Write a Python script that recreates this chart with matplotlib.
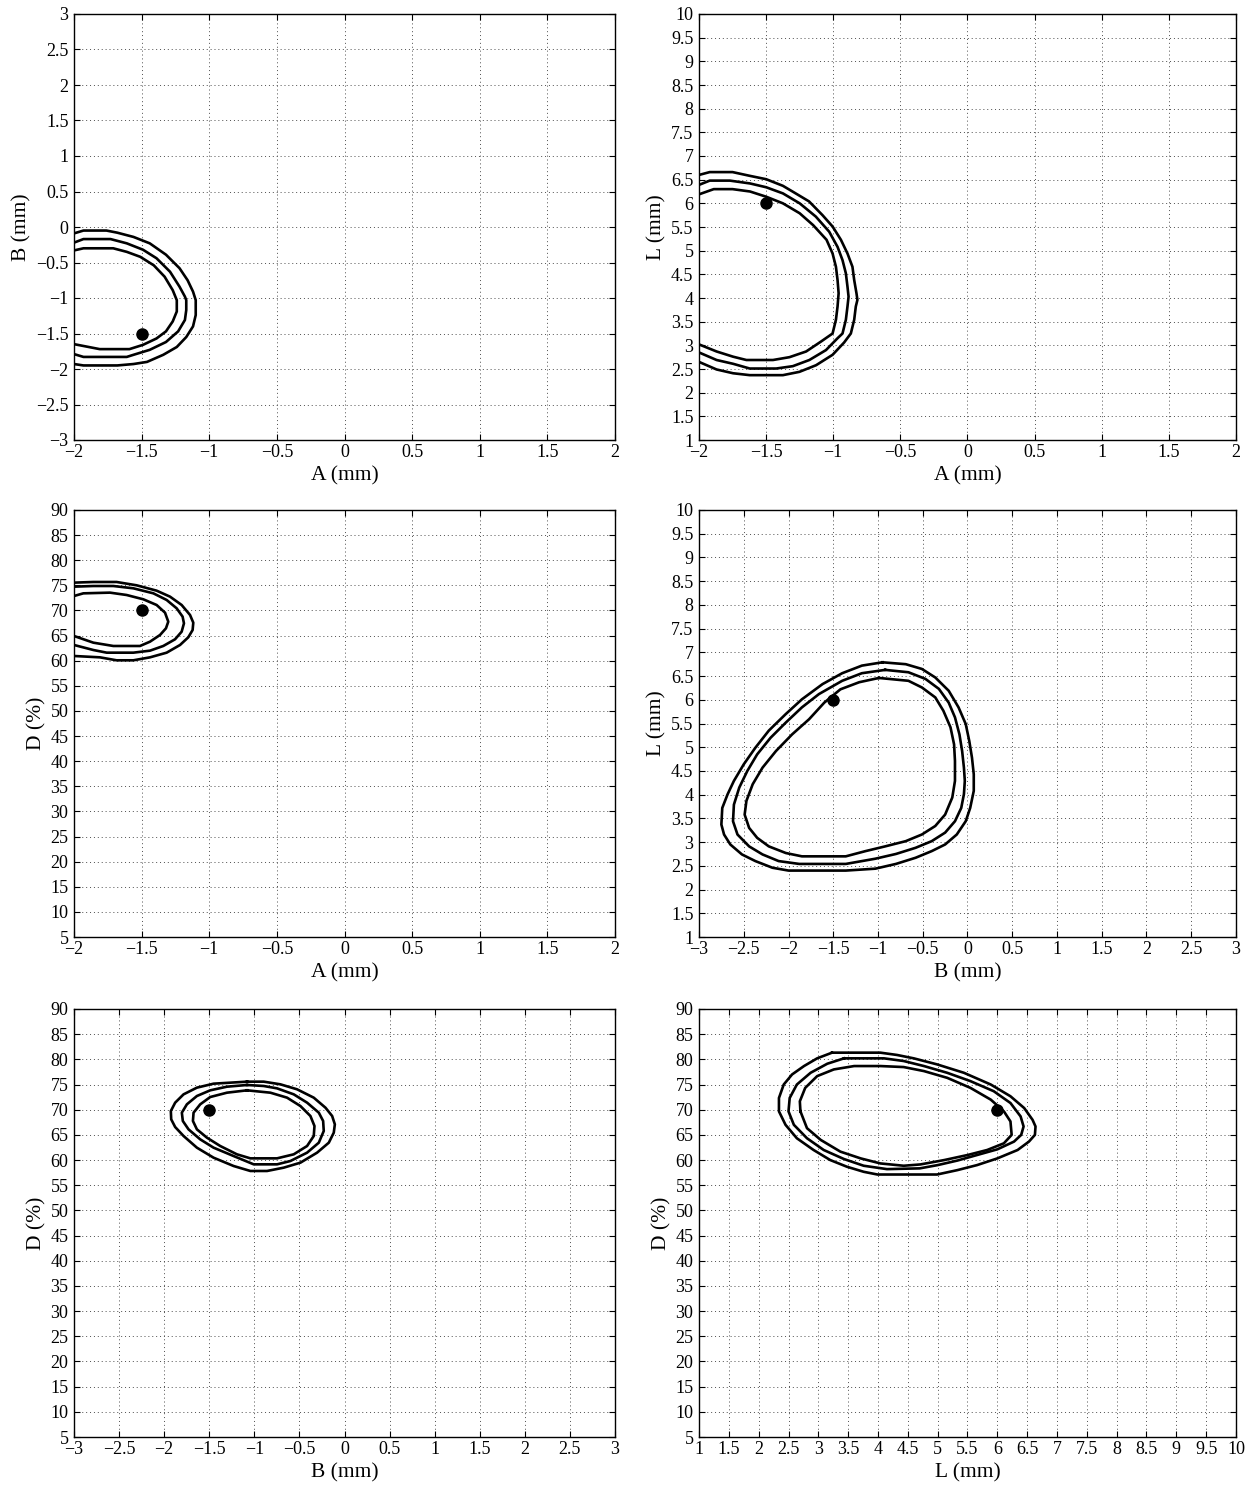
import matplotlib.pyplot as plt
import numpy as np
from matplotlib.ticker import FuncFormatter

plt.rcParams["font.family"] = ["Liberation Serif", "DejaVu Serif"]
plt.rcParams["axes.unicode_minus"] = True

# optimum point (marked with a dot)
best_a = -1.5
best_b = -1.5
best_l = 6.0
best_d = 70.0

# contour levels, outer -> inner
# A-B plane
ab_outer_a = [-2.0, -1.93, -1.76, -1.68, -1.56, -1.44, -1.32, -1.22, -1.16, -1.12, -1.10, -1.10, -1.12, -1.17, -1.24, -1.34, -1.46, -1.56, -1.68, -1.93, -2.0]
ab_outer_b = [-0.09, -0.05, -0.05, -0.08, -0.14, -0.23, -0.39, -0.58, -0.75, -0.91, -1.03, -1.24, -1.40, -1.55, -1.69, -1.80, -1.90, -1.93, -1.95, -1.95, -1.93]
ab_mid_a = [-2.0, -1.93, -1.73, -1.61, -1.49, -1.39, -1.29, -1.22, -1.18, -1.17, -1.17, -1.18, -1.23, -1.32, -1.44, -1.56, -1.61, -1.93, -2.0]
ab_mid_b = [-0.22, -0.17, -0.17, -0.23, -0.32, -0.44, -0.63, -0.84, -0.98, -1.03, -1.17, -1.31, -1.47, -1.62, -1.73, -1.80, -1.83, -1.83, -1.79]
ab_inner_a = [-2.0, -1.93, -1.71, -1.61, -1.51, -1.41, -1.33, -1.27, -1.24, -1.24, -1.27, -1.32, -1.39, -1.49, -1.59, -1.81, -2.0]
ab_inner_b = [-0.33, -0.30, -0.30, -0.35, -0.42, -0.54, -0.70, -0.89, -1.03, -1.19, -1.33, -1.47, -1.57, -1.66, -1.72, -1.72, -1.65]

# A-L plane
al_outer_a = [-2.0, -1.92, -1.75, -1.62, -1.50, -1.375, -1.28, -1.18, -1.08, -1.005, -0.943, -0.894, -0.857, -0.844, -0.827, -0.820, -0.832, -0.844, -0.869, -0.919, -1.005, -1.128, -1.252, -1.375, -1.622, -1.746, -1.869, -2.0]
al_outer_l = [6.60, 6.66, 6.66, 6.58, 6.51, 6.37, 6.21, 6.04, 5.75, 5.51, 5.23, 4.94, 4.66, 4.38, 4.10, 3.96, 3.82, 3.54, 3.25, 3.06, 2.80, 2.58, 2.44, 2.37, 2.37, 2.41, 2.49, 2.65]
al_mid_a = [-2.0, -1.92, -1.77, -1.62, -1.50, -1.375, -1.25, -1.13, -1.03, -0.968, -0.931, -0.906, -0.894, -0.886, -0.894, -0.906, -0.931, -0.968, -1.054, -1.178, -1.301, -1.425, -1.622, -1.746, -1.869, -2.0]
al_mid_l = [6.39, 6.48, 6.48, 6.42, 6.34, 6.21, 6.00, 5.72, 5.40, 5.08, 4.80, 4.52, 4.24, 4.03, 3.82, 3.54, 3.25, 3.15, 2.90, 2.69, 2.56, 2.51, 2.51, 2.61, 2.69, 2.85]
al_inner_a = [-2.0, -1.89, -1.75, -1.62, -1.50, -1.375, -1.25, -1.15, -1.05, -1.005, -0.98, -0.968, -0.96, -0.968, -0.98, -1.005, -1.091, -1.202, -1.326, -1.449, -1.647, -1.746, -1.869, -2.0]
al_inner_l = [6.19, 6.30, 6.30, 6.25, 6.14, 6.00, 5.79, 5.54, 5.23, 4.94, 4.66, 4.38, 4.10, 3.82, 3.54, 3.25, 3.08, 2.87, 2.75, 2.69, 2.69, 2.76, 2.87, 3.02]

# A-D plane
ad_outer_a = [-2.0, -1.857, -1.685, -1.537, -1.389, -1.29, -1.204, -1.142, -1.118, -1.123, -1.155, -1.216, -1.315, -1.438, -1.561, -1.685, -1.808, -2.0]
ad_outer_d = [75.54, 75.67, 75.67, 75.01, 73.94, 72.75, 71.09, 69.10, 67.57, 66.11, 64.66, 63.13, 61.60, 60.67, 60.08, 60.08, 60.67, 60.94]
ad_mid_a = [-2.0, -1.857, -1.709, -1.561, -1.413, -1.315, -1.241, -1.197, -1.187, -1.204, -1.253, -1.34, -1.438, -1.561, -1.758, -1.857, -2.0]
ad_mid_d = [74.74, 74.87, 74.87, 74.41, 73.41, 72.09, 70.43, 68.77, 67.44, 65.78, 64.26, 62.93, 62.00, 61.60, 61.60, 62.13, 63.13]
ad_inner_a = [-2.0, -1.931, -1.734, -1.611, -1.487, -1.389, -1.327, -1.303, -1.32, -1.364, -1.438, -1.512, -1.709, -1.857, -2.0]
ad_inner_d = [72.88, 73.41, 73.55, 73.08, 72.22, 71.09, 69.56, 67.77, 66.45, 65.12, 63.79, 62.93, 62.93, 63.59, 64.92]

# B-L plane
bl_outer_b = [-0.95, -0.69, -0.51, -0.36, -0.21, -0.10, -0.02, 0.02, 0.05, 0.07, 0.07, 0.03, -0.02, -0.12, -0.25, -0.40, -0.58, -0.80, -1.03, -1.36, -2.00, -2.18, -2.37, -2.52, -2.65, -2.72, -2.75, -2.74, -2.68, -2.61, -2.50, -2.37, -2.22, -2.03, -1.85, -1.62, -1.40, -1.18]
bl_outer_l = [6.79, 6.75, 6.65, 6.47, 6.19, 5.84, 5.49, 5.13, 4.78, 4.43, 4.08, 3.72, 3.44, 3.16, 2.95, 2.81, 2.67, 2.54, 2.44, 2.40, 2.40, 2.46, 2.60, 2.74, 2.95, 3.16, 3.37, 3.72, 4.01, 4.29, 4.64, 4.99, 5.35, 5.70, 6.01, 6.33, 6.56, 6.72]
bl_mid_b = [-0.92, -0.66, -0.47, -0.32, -0.21, -0.14, -0.09, -0.06, -0.04, -0.03, -0.04, -0.07, -0.14, -0.25, -0.40, -0.58, -0.80, -1.03, -1.36, -1.88, -2.11, -2.29, -2.44, -2.57, -2.62, -2.61, -2.55, -2.46, -2.35, -2.20, -2.03, -1.85, -1.66, -1.40, -1.18]
bl_mid_l = [6.63, 6.58, 6.44, 6.23, 5.94, 5.63, 5.27, 4.92, 4.57, 4.29, 4.01, 3.72, 3.44, 3.20, 3.02, 2.88, 2.75, 2.65, 2.54, 2.54, 2.60, 2.74, 2.91, 3.16, 3.44, 3.79, 4.15, 4.50, 4.85, 5.20, 5.52, 5.84, 6.12, 6.40, 6.56]
bl_inner_b = [-0.99, -0.66, -0.51, -0.36, -0.27, -0.19, -0.15, -0.14, -0.14, -0.17, -0.25, -0.36, -0.51, -0.69, -0.92, -1.14, -1.36, -1.85, -2.03, -2.22, -2.35, -2.44, -2.49, -2.47, -2.40, -2.29, -2.14, -1.96, -1.77, -1.60, -1.42, -1.21]
bl_inner_l = [6.46, 6.40, 6.26, 6.05, 5.77, 5.42, 5.06, 4.71, 4.29, 3.94, 3.58, 3.34, 3.16, 3.02, 2.91, 2.81, 2.70, 2.70, 2.77, 2.91, 3.09, 3.30, 3.58, 3.87, 4.22, 4.57, 4.92, 5.27, 5.59, 5.94, 6.22, 6.37]

# B-D plane
bd_outer_b = [-1.081, -1.452, -1.637, -1.785, -1.878, -1.926, -1.922, -1.878, -1.785, -1.637, -1.452, -1.230, -1.044, -0.859, -0.674, -0.489, -0.304, -0.174, -0.119, -0.107, -0.137, -0.211, -0.341, -0.526, -0.711, -0.896]
bd_outer_d = [75.57, 75.17, 74.38, 73.05, 71.40, 69.74, 68.09, 66.56, 64.78, 62.46, 60.47, 58.82, 57.83, 57.83, 58.49, 59.48, 61.47, 63.45, 65.44, 67.09, 68.75, 70.40, 72.39, 74.05, 75.04, 75.57]
bd_mid_b = [-1.081, -1.304, -1.489, -1.637, -1.748, -1.804, -1.793, -1.730, -1.600, -1.452, -1.230, -1.007, -0.748, -0.600, -0.415, -0.285, -0.230, -0.237, -0.285, -0.415, -0.563, -0.748, -0.896]
bd_mid_d = [74.91, 74.57, 73.85, 72.72, 71.07, 69.41, 67.76, 66.10, 64.11, 62.46, 60.80, 59.15, 59.15, 59.81, 61.47, 63.45, 65.77, 67.76, 69.41, 71.40, 73.05, 74.24, 74.71]
bd_inner_b = [-1.081, -1.304, -1.489, -1.600, -1.674, -1.681, -1.637, -1.526, -1.378, -1.193, -1.044, -0.748, -0.563, -0.415, -0.341, -0.333, -0.378, -0.489, -0.637, -0.822]
bd_inner_d = [73.85, 73.38, 72.52, 71.07, 69.41, 67.76, 66.10, 64.45, 62.79, 61.14, 60.34, 60.34, 61.14, 62.79, 64.78, 66.76, 68.75, 70.73, 72.39, 73.38]

# L-D plane
ld_outer_l = [3.23, 4.04, 4.32, 4.60, 4.99, 5.44, 5.89, 6.22, 6.45, 6.59, 6.64, 6.63, 6.53, 6.34, 6.00, 5.66, 5.33, 4.99, 3.99, 3.76, 3.48, 3.20, 2.92, 2.64, 2.45, 2.34, 2.34, 2.42, 2.56, 2.76, 2.98]
ld_outer_d = [81.33, 81.33, 80.87, 80.20, 79.00, 77.33, 75.00, 72.67, 70.33, 68.00, 66.67, 65.00, 63.67, 62.00, 60.33, 59.00, 58.00, 57.13, 57.13, 57.67, 58.67, 60.00, 62.00, 64.33, 67.00, 69.67, 72.33, 75.00, 77.00, 78.67, 80.20]
ld_mid_l = [3.43, 4.10, 4.43, 4.77, 5.16, 5.55, 5.94, 6.22, 6.39, 6.44, 6.40, 6.28, 6.00, 5.66, 5.33, 5.00, 4.70, 4.15, 3.76, 3.43, 3.09, 2.81, 2.59, 2.50, 2.52, 2.64, 2.87, 3.15]
ld_mid_d = [80.20, 80.20, 79.67, 78.67, 77.33, 75.67, 73.67, 71.33, 68.67, 66.67, 65.00, 63.67, 62.13, 61.00, 59.90, 59.00, 58.35, 58.20, 58.87, 60.20, 62.00, 64.33, 67.00, 69.67, 72.33, 75.00, 77.33, 79.13]
ld_inner_l = [2.70, 2.69, 2.78, 2.98, 3.26, 3.60, 4.04, 4.43, 4.77, 5.16, 5.55, 5.89, 6.11, 6.22, 6.24, 6.11, 5.83, 5.50, 5.11, 4.71, 4.43, 4.04, 3.71, 3.37, 3.04, 2.81]
ld_inner_d = [69.67, 71.67, 74.33, 76.67, 78.00, 78.67, 78.67, 78.47, 77.67, 76.33, 74.33, 72.00, 69.67, 67.67, 65.00, 63.33, 62.00, 61.00, 60.00, 59.13, 58.87, 59.33, 60.33, 61.67, 64.00, 66.33]


def setup_axis(ax, xmin, xmax, xstep, ymin, ymax, ystep, xlabel, ylabel):
    ax.set_xlim(xmin, xmax)
    ax.set_ylim(ymin, ymax)
    ax.set_xticks(np.arange(xmin, xmax + xstep / 2, xstep))
    ax.set_yticks(np.arange(ymin, ymax + ystep / 2, ystep))
    fmt = FuncFormatter(lambda v, p: f"{v:g}".replace("-", "\u2212"))
    ax.xaxis.set_major_formatter(fmt)
    ax.yaxis.set_major_formatter(fmt)
    ax.tick_params(direction="in", top=True, right=True, length=4, width=0.8,
                   labelsize=13)
    ax.tick_params(axis="x", pad=3)
    ax.tick_params(axis="y", pad=4)
    ax.grid(True, linestyle=(0, (1, 3)), color="0.3", linewidth=0.7)
    for sp in ax.spines.values():
        sp.set_linewidth(1.0)
    ax.set_xlabel(xlabel, fontsize=15.5, labelpad=4)
    ax.set_ylabel(ylabel, fontsize=15.5, labelpad=3)


def draw_rings(ax, rings, closed):
    for xs, ys in rings:
        xs = list(xs)
        ys = list(ys)
        if closed:
            xs.append(xs[0])
            ys.append(ys[0])
        ax.plot(xs, ys, color="black", linewidth=1.9, solid_joinstyle="round")


fig = plt.figure(figsize=(12.53, 14.86), dpi=100)

left_x, left_w = 74 / 1253, 541 / 1253
right_x, right_w = 699 / 1253, 537 / 1253
rows = [(1 - 440 / 1486, 426 / 1486), (1 - 937 / 1486, 427 / 1486), (1 - 1437 / 1486, 428 / 1486)]

ax1 = fig.add_axes([left_x, rows[0][0], left_w, rows[0][1]])
ax2 = fig.add_axes([right_x, rows[0][0], right_w, rows[0][1]])
ax3 = fig.add_axes([left_x, rows[1][0], left_w, rows[1][1]])
ax4 = fig.add_axes([right_x, rows[1][0], right_w, rows[1][1]])
ax5 = fig.add_axes([left_x, rows[2][0], left_w, rows[2][1]])
ax6 = fig.add_axes([right_x, rows[2][0], right_w, rows[2][1]])

# A vs B
draw_rings(ax1, [(ab_outer_a, ab_outer_b), (ab_mid_a, ab_mid_b), (ab_inner_a, ab_inner_b)], False)
ax1.plot(best_a, best_b, "o", color="black", markersize=8)
setup_axis(ax1, -2, 2, 0.5, -3, 3, 0.5, "A (mm)", "B (mm)")

# A vs L
draw_rings(ax2, [(al_outer_a, al_outer_l), (al_mid_a, al_mid_l), (al_inner_a, al_inner_l)], False)
ax2.plot(best_a, best_l, "o", color="black", markersize=8)
setup_axis(ax2, -2, 2, 0.5, 1, 10, 0.5, "A (mm)", "L (mm)")

# A vs D
draw_rings(ax3, [(ad_outer_a, ad_outer_d), (ad_mid_a, ad_mid_d), (ad_inner_a, ad_inner_d)], False)
ax3.plot(best_a, best_d, "o", color="black", markersize=8)
setup_axis(ax3, -2, 2, 0.5, 5, 90, 5, "A (mm)", "D (%)")

# B vs L
draw_rings(ax4, [(bl_outer_b, bl_outer_l), (bl_mid_b, bl_mid_l), (bl_inner_b, bl_inner_l)], True)
ax4.plot(best_b, best_l, "o", color="black", markersize=8)
setup_axis(ax4, -3, 3, 0.5, 1, 10, 0.5, "B (mm)", "L (mm)")

# B vs D
draw_rings(ax5, [(bd_outer_b, bd_outer_d), (bd_mid_b, bd_mid_d), (bd_inner_b, bd_inner_d)], True)
ax5.plot(best_b, best_d, "o", color="black", markersize=8)
setup_axis(ax5, -3, 3, 0.5, 5, 90, 5, "B (mm)", "D (%)")

# L vs D
draw_rings(ax6, [(ld_outer_l, ld_outer_d), (ld_mid_l, ld_mid_d), (ld_inner_l, ld_inner_d)], True)
ax6.plot(best_l, best_d, "o", color="black", markersize=8)
setup_axis(ax6, 1, 10, 0.5, 5, 90, 5, "L (mm)", "D (%)")

fig.savefig("out.png", dpi=100)
